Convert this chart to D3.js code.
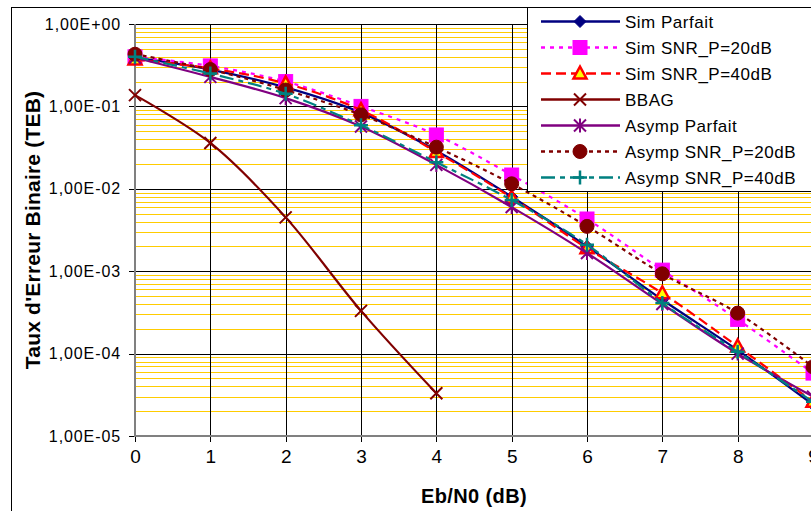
<!DOCTYPE html>
<html><head><meta charset="utf-8">
<script src="https://cdn.jsdelivr.net/npm/d3@7"></script>
<style>body{margin:0;background:#fff;}svg{display:block;font-family:"Liberation Sans",Arial,sans-serif;}</style>
</head><body>
<script>
const xValues = [0,1,2,3,4,5,6,7,8,9];
const xTicks = [0,1,2,3,4,5,6,7,8,9];
const yTicks = [1,1e-1,1e-2,1e-3,1e-4,1e-5];
const yTickLabels = ["1,00E+00","1,00E-01","1,00E-02","1,00E-03","1,00E-04","1,00E-05"];
const seriesNames = ["Sim Parfait","Sim SNR_P=20dB","Sim SNR_P=40dB","BBAG","Asymp Parfait","Asymp SNR_P=20dB","Asymp SNR_P=40dB"];
const simParfait   = [0.39, 0.28, 0.17, 0.084, 0.029, 0.008, 0.002, 0.00045, 0.00011, 2.4e-5];
const simSnr20     = [0.40, 0.31, 0.20, 0.10, 0.045, 0.0147, 0.0043, 0.00103, 0.00026, 5.8e-5];
const simSnr40     = [0.37, 0.29, 0.19, 0.09, 0.028, 0.0078, 0.0019, 0.00054, 0.000122, 2.6e-5];
const bbag         = [0.137, 0.036, 0.0045, 0.00033, 3.3e-5];
const asympParfait = [0.39, 0.228, 0.126, 0.057, 0.0195, 0.006, 0.00166, 0.0004, 0.0001, 3.0e-5];
const asympSnr20   = [0.43, 0.28, 0.158, 0.079, 0.032, 0.0115, 0.0035, 0.00093, 0.00031, 6.9e-5];
const asympSnr40   = [0.40, 0.25, 0.142, 0.059, 0.021, 0.0073, 0.0021, 0.00041, 0.000105, 2.6e-5];
const allValues = [simParfait, simSnr20, simSnr40, bbag, asympParfait, asympSnr20, asympSnr40];

const styles = [
  {color:"#000080", dash:null, marker:"diamond", fill:"#000080"},
  {color:"#FF00FF", dash:"4,5", marker:"square", fill:"#FF00FF"},
  {color:"#FF0000", dash:"10,5", marker:"triangle", fill:"#FFFF00"},
  {color:"#800000", dash:null, marker:"x", fill:"none"},
  {color:"#800080", dash:null, marker:"asterisk", fill:"none"},
  {color:"#800000", dash:"4,4", marker:"circle", fill:"#800000"},
  {color:"#008080", dash:"14,5,5,5", marker:"plus", fill:"none"}
];

const W = 811, H = 511;
const svg = d3.select("body").append("svg").attr("width", W).attr("height", H);
const pLeft = 135, pTop = 24, pBottom = 436;
const x = d3.scaleLinear().domain([0,9]).range([pLeft, 813]);
const y = d3.scaleLog().domain([1e-5, 1]).range([pBottom, pTop]);

svg.append("rect").attr("x",11.5).attr("y",7.5).attr("width",W+20).attr("height",H+20)
  .attr("fill","#fff").attr("stroke","#000").attr("stroke-width",1);

const grid = svg.append("g").attr("shape-rendering","crispEdges");
const minor = [];
for (let e=-5; e<0; e++) for (let m=2; m<=9; m++) minor.push(m*Math.pow(10,e));
grid.selectAll("line.minor").data(minor).enter().append("line")
  .attr("x1", pLeft).attr("x2", W+5)
  .attr("y1", d=>Math.round(y(d))+0.5).attr("y2", d=>Math.round(y(d))+0.5)
  .attr("stroke","#FFCC00").attr("stroke-width",1);
grid.selectAll("line.major").data(yTicks).enter().append("line")
  .attr("x1", pLeft).attr("x2", W+5)
  .attr("y1", d=>Math.round(y(d))+0.5).attr("y2", d=>Math.round(y(d))+0.5)
  .attr("stroke","#000").attr("stroke-width",1);
grid.selectAll("line.v").data(xTicks.slice(1)).enter().append("line")
  .attr("x1", d=>Math.round(x(d))+0.5).attr("x2", d=>Math.round(x(d))+0.5)
  .attr("y1", pTop).attr("y2", pBottom)
  .attr("stroke","#000").attr("stroke-width",1);

const yAxis = d3.axisLeft(y).tickValues(yTicks).tickSize(6).tickPadding(8)
  .tickFormat((d,i)=>yTickLabels[i]);
const gy = svg.append("g").attr("transform",`translate(${pLeft},0)`).call(yAxis);
gy.select(".domain").remove();
gy.selectAll(".tick line").attr("stroke","#000").attr("shape-rendering","crispEdges");
gy.selectAll(".tick text").attr("font-size","16px").attr("letter-spacing","0.9px")
  .attr("font-family","'Liberation Sans',Arial,sans-serif").attr("fill","#000");

const xAxis = d3.axisBottom(x).tickValues(xTicks).tickSize(6).tickPadding(8).tickFormat(d3.format("d"));
const gx = svg.append("g").attr("transform",`translate(0,${pBottom})`).call(xAxis);
gx.select(".domain").remove();
gx.selectAll(".tick line").attr("stroke","#000").attr("shape-rendering","crispEdges");
gx.selectAll(".tick text").attr("font-size","19px")
  .attr("font-family","'Liberation Sans',Arial,sans-serif").attr("fill","#000");

svg.append("line").attr("x1",pLeft).attr("x2",pLeft).attr("y1",pTop).attr("y2",pBottom+1)
  .attr("stroke","#808080").attr("stroke-width",2);
svg.append("line").attr("x1",pLeft-1).attr("x2",W+5).attr("y1",pBottom).attr("y2",pBottom)
  .attr("stroke","#808080").attr("stroke-width",2);

svg.append("text").attr("x",474).attr("y",503).attr("text-anchor","middle")
  .attr("font-size","20px").attr("font-weight","bold").attr("letter-spacing","0.4px").text("Eb/N0 (dB)");
svg.append("text").attr("transform","translate(40,230) rotate(-90)").attr("text-anchor","middle")
  .attr("font-size","21px").attr("font-weight","bold").attr("letter-spacing","0.2px").text("Taux d'Erreur Binaire (TEB)");

function drawMarker(g, type, cx, cy, st) {
  const c = st.color;
  if (type==="diamond") {
    g.append("path").attr("d",`M${cx},${cy-6}L${cx+6},${cy}L${cx},${cy+6}L${cx-6},${cy}Z`).attr("fill",c).attr("stroke",c).attr("stroke-width",1);
  } else if (type==="square") {
    g.append("rect").attr("x",cx-7).attr("y",cy-7).attr("width",14).attr("height",14).attr("fill",c).attr("stroke",c);
  } else if (type==="triangle") {
    g.append("path").attr("d",`M${cx},${cy-7}L${cx+6.5},${cy+5}L${cx-6.5},${cy+5}Z`).attr("fill",st.fill).attr("stroke",c).attr("stroke-width",2.5);
  } else if (type==="x") {
    g.append("path").attr("d",`M${cx-6},${cy-6}L${cx+6},${cy+6}M${cx-6},${cy+6}L${cx+6},${cy-6}`).attr("stroke",c).attr("stroke-width",2);
  } else if (type==="asterisk") {
    g.append("path").attr("d",`M${cx-6},${cy-6}L${cx+6},${cy+6}M${cx-6},${cy+6}L${cx+6},${cy-6}M${cx},${cy-7}L${cx},${cy+7}`).attr("stroke",c).attr("stroke-width",2);
  } else if (type==="circle") {
    g.append("circle").attr("cx",cx).attr("cy",cy).attr("r",7).attr("fill",c).attr("stroke",c);
  } else if (type==="plus") {
    g.append("path").attr("d",`M${cx-7},${cy}L${cx+7},${cy}M${cx},${cy-7}L${cx},${cy+7}`).attr("stroke",c).attr("stroke-width",2.5);
  }
}

const line = d3.line().x(d=>x(d[0])).y(d=>y(d[1])).curve(d3.curveCatmullRom.alpha(0.5));
allValues.forEach((vals, i) => {
  const st = styles[i];
  const pts = vals.map((v,j)=>[xValues[j], v]);
  const g = svg.append("g");
  g.append("path").attr("d", line(pts)).attr("fill","none").attr("stroke",st.color)
    .attr("stroke-width",2.2).attr("stroke-dasharray", st.dash);
  pts.forEach(p => drawMarker(g, st.marker, x(p[0]), y(p[1]), st));
});

const lg = svg.append("g");
lg.append("rect").attr("x",527.5).attr("y",7.5).attr("width",300).attr("height",184)
  .attr("fill","#fff").attr("stroke","#000").attr("stroke-width",1);
seriesNames.forEach((name,i)=>{
  const st = styles[i];
  const yy = 21.5 + i*26;
  lg.append("line").attr("x1",541).attr("x2",620).attr("y1",yy).attr("y2",yy)
    .attr("stroke",st.color).attr("stroke-width",2.5).attr("stroke-dasharray",st.dash);
  drawMarker(lg, st.marker, 580, yy, st);
  lg.append("text").attr("x",625).attr("y",yy+6).attr("font-size","17px").attr("letter-spacing","0.5px").text(name);
});
</script>
</body></html>
